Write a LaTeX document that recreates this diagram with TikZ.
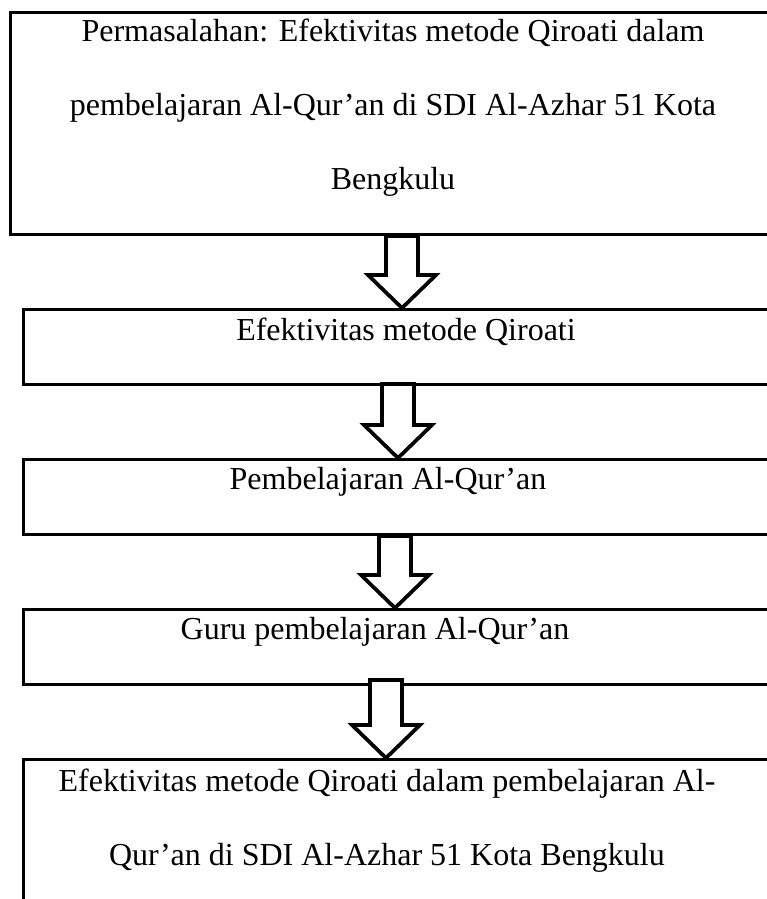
\documentclass[tikz,border=0pt]{standalone}
\usepackage{fontspec}
\setmainfont{Liberation Serif}
\usepackage{tikz}
\usetikzlibrary{calc}

\begin{document}
\begin{tikzpicture}[x=0.375pt, y=-0.375pt, every node/.style={font=\fontsize{12}{27.75}\selectfont}]
  \tikzstyle{box} = [rectangle, draw=black, line width=1.1pt, minimum width=300pt, anchor=north west, inner sep=0pt]
  \tikzstyle{txt} = [align=center, inner sep=0pt]
  \tikzstyle{hollowarrow} = [draw=black, fill=white, line width=1.4pt]

  \useasboundingbox (0,0) rectangle (767,899);

  \node (top) [box, minimum height=83.25pt] at (9,11) {};
  \node (b2) [box, minimum height=28.125pt] at (22,308) {};
  \node (b3) [box, minimum height=28.125pt] at (22,458) {};
  \node (b4) [box, minimum height=28.125pt] at (22,608) {};
  \node (b5) [box, minimum height=60pt] at (22,758) {};

  \node (ttop) [txt, anchor=north] at (393,18) {Permasalahan: Efektivitas metode Qiroati dalam\\pembelajaran Al-Qur’an di SDI Al-Azhar 51 Kota\\Bengkulu};
  \node (t2) [txt, anchor=base] at (406,340) {Efektivitas metode Qiroati};
  \node (t3) [txt, anchor=base] at (388,489) {Pembelajaran Al-Qur’an};
  \node (t4) [txt, anchor=base] at (375,639) {Guru pembelajaran Al-Qur’an};
  \node (t5) [txt, anchor=north] at (387,768) {Efektivitas metode Qiroati dalam pembelajaran Al-\\Qur’an di SDI Al-Azhar 51 Kota Bengkulu};

  \foreach \from/\to/\cx/\o in {top/b2/402/0, b2/b3/398/2, b3/b4/395/0, b4/b5/386/6}{
    \coordinate (ax) at (\cx,0);
    \coordinate (s) at (\from.south -| ax);
    \coordinate (e) at (\to.north -| ax);
    \draw [hollowarrow] ($(s)+(-16,-\o)$) -- ($(s)+(16,-\o)$) -- ($(e)+(16,-33)$) -- ($(e)+(34,-33)$) -- (e) -- ($(e)+(-34,-33)$) -- ($(e)+(-16,-33)$) -- cycle;
  }
\end{tikzpicture}
\end{document}
